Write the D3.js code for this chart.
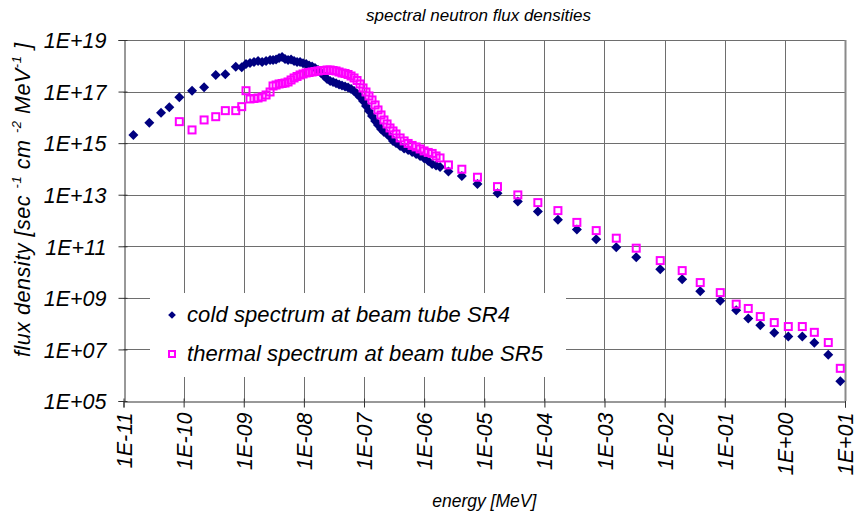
<!DOCTYPE html>
<meta charset="utf-8" />
<html>
<head>
<script src="https://d3js.org/d3.v7.min.js"></script>
<style>
  body { margin: 0; background: white; }
  svg text { font-family: "Liberation Sans", Arial, sans-serif; font-style: italic; fill: black; }
</style>
</head>
<body>
<div id="chart"></div>
<script>
// energy bins [MeV], shared by both spectra
const energy = [
  1.46e-11, 2.69e-11, 4.21e-11, 5.78e-11, 8.48e-11, 1.38e-10, 2.19e-10, 3.42e-10, 4.94e-10, 7.36e-10, 9.26e-10,
  1.09e-9, 1.27e-9, 1.48e-9, 1.73e-9, 2.02e-9, 2.35e-9, 2.74e-9,
  3.07e-9, 3.45e-9, 3.87e-9, 4.34e-9, 4.86e-9, 5.46e-9, 6.12e-9, 6.87e-9, 7.70e-9, 8.64e-9,
  9.69e-9, 1.09e-8, 1.22e-8, 1.37e-8, 1.53e-8, 1.72e-8, 1.93e-8, 2.17e-8, 2.43e-8, 2.73e-8,
  3.06e-8, 3.43e-8, 3.85e-8, 4.31e-8, 4.84e-8, 5.43e-8, 6.09e-8, 6.83e-8, 7.66e-8, 8.59e-8,
  9.64e-8, 1.08e-7, 1.21e-7, 1.36e-7, 1.53e-7, 1.71e-7, 1.92e-7, 2.15e-7, 2.42e-7, 2.71e-7,
  3.04e-7, 3.41e-7,
  3.99e-7, 4.65e-7, 5.42e-7, 6.31e-7, 7.36e-7, 8.57e-7, 9.99e-7, 1.17e-6, 1.36e-6, 1.58e-6, 1.84e-6,
  2.54e-6, 4.24e-6, 7.71e-6, 1.66e-5, 3.62e-5, 7.79e-5, 1.68e-4, 3.47e-4, 7.28e-4, 1.57e-3, 3.37e-3, 8.45e-3,
  1.96e-2, 3.91e-2, 8.42e-2, 1.55e-1, 2.46e-1, 3.90e-1, 6.66e-1, 1.14, 1.95, 3.09, 5.27, 8.35
];

// cold spectrum at beam tube SR4
const coldFlux = [
  2.08e15, 6.23e15, 1.52e16, 2.46e16, 6.01e16, 1.08e17, 1.47e17, 4.40e17, 4.68e17, 9.23e17, 8.75e17,
  1.17e18, 1.28e18, 1.40e18, 1.53e18, 1.40e18, 1.53e18, 1.68e18,
  1.68e18, 1.75e18, 2.01e18, 2.19e18, 1.83e18, 1.68e18, 1.75e18, 1.53e18, 1.40e18, 1.40e18,
  1.25e18, 1.17e18, 1.03e18, 9.40e17, 8.22e17, 6.87e17, 5.26e17, 4.02e17, 3.08e17, 2.58e17,
  2.36e17, 2.10e17, 1.88e17, 1.72e17, 1.58e17, 1.44e17, 1.26e17, 1.06e17, 8.07e16, 6.18e16,
  4.32e16, 2.77e16, 1.77e16, 1.13e16, 7.25e15, 5.08e15, 3.55e15, 2.72e15, 2.27e15, 1.74e15,
  1.22e15, 1.02e15,
  7.79e14, 6.23e14, 5.45e14, 4.56e14, 3.81e14, 3.19e14, 2.60e14, 2.04e14, 1.56e14, 1.37e14, 1.20e14,
  7.86e13, 5.35e13, 2.62e13, 1.14e13, 5.40e12, 2.21e12, 1.06e12, 4.52e11, 1.88e11, 9.23e10, 3.78e10, 1.30e10,
  5.31e9, 1.82e9, 7.65e8, 3.28e8, 1.58e8, 8.75e7, 4.40e7, 3.16e7, 3.16e7, 1.80e7, 6.18e6, 5.80e5
];

// thermal spectrum at beam tube SR5 (no values for the lowest bins)
const thermalFlux = [
  null, null, null, null, 6.81e15, 3.25e15, 7.93e15, 1.06e16, 1.82e16, 1.82e16, 2.60e16,
  1.08e17, 5.17e16, 5.40e16, 5.65e16, 6.18e16, 7.38e16, 9.65e16,
  1.65e17, 1.80e17, 1.97e17, 2.06e17, 2.15e17, 2.36e17, 2.82e17, 3.37e17, 3.85e17, 4.40e17,
  4.81e17, 5.26e17, 5.50e17, 5.75e17, 6.01e17, 6.29e17, 6.57e17, 6.57e17, 6.87e17, 6.87e17,
  6.57e17, 6.29e17, 5.75e17, 5.26e17, 5.03e17, 4.60e17, 4.02e17, 3.37e17, 2.69e17, 1.97e17,
  1.38e17, 9.65e16, 6.75e16, 4.73e16, 3.02e16, 1.94e16, 1.24e16, 7.93e15, 5.55e15, 3.88e15,
  2.97e15, 2.27e15,
  1.59e15, 1.22e15, 9.74e14, 8.15e14, 7.13e14, 5.96e14, 4.99e14, 4.36e14, 3.99e14, 3.19e14, 2.67e14,
  1.43e14, 9.74e13, 4.77e13, 2.06e13, 9.82e12, 4.94e12, 2.42e12, 8.44e11, 4.06e11, 2.06e11, 8.44e10, 2.79e10,
  1.14e10, 3.92e9, 1.60e9, 5.70e8, 3.88e8, 1.88e8, 1.10e8, 7.72e7, 7.72e7, 4.60e7, 1.85e7, 1.85e6
];

const xTicks = [1e-11, 1e-10, 1e-9, 1e-8, 1e-7, 1e-6, 1e-5, 1e-4, 1e-3, 1e-2, 1e-1, 1e0, 1e1];
const yTicks = [1e5, 1e7, 1e9, 1e11, 1e13, 1e15, 1e17, 1e19];
const seriesNames = ["cold spectrum at beam tube SR4", "thermal spectrum at beam tube SR5"];

const width = 859, height = 522;
const margin = {top: 40, right: 14, bottom: 121, left: 123.5};

const svg = d3.select("#chart").append("svg")
  .attr("width", width)
  .attr("height", height);

const x = d3.scaleLog()
  .domain([1e-11, 10])
  .range([margin.left, width - margin.right]);

const y = d3.scaleLog()
  .domain([1e5, 1e19])
  .range([height - margin.bottom, margin.top]);

const expFormat = v => {
  const e = Math.round(Math.log10(v));
  return "1E" + (e < 0 ? "-" : "+") + String(Math.abs(e)).padStart(2, "0");
};

// gridlines
const grid = svg.append("g").attr("stroke", "#6e6e6e").attr("stroke-width", 1);
grid.selectAll(".vg")
  .data(xTicks.slice(1))
  .join("line")
    .attr("x1", d => Math.round(x(d)) + 0.5)
    .attr("x2", d => Math.round(x(d)) + 0.5)
    .attr("y1", y(1e19))
    .attr("y2", y(1e5));
grid.selectAll(".hg")
  .data(yTicks.slice(1))
  .join("line")
    .attr("x1", x(1e-11))
    .attr("x2", x(10))
    .attr("y1", d => Math.round(y(d)) + 0.5)
    .attr("y2", d => Math.round(y(d)) + 0.5);

// axes
const yAxis = svg.append("g")
  .attr("transform", `translate(${Math.round(x(1e-11)) + 0.5},0)`)
  .call(d3.axisLeft(y).tickValues(yTicks).tickFormat(expFormat).tickSizeOuter(0).tickSize(6));
yAxis.selectAll(".tick line").attr("x1", 3).attr("x2", -6).attr("stroke", "#333");
yAxis.select(".domain").attr("stroke", "#333");
yAxis.selectAll(".tick text")
  .attr("font-size", 21.5)
  .attr("font-family", null)
  .attr("x", -18)
  .attr("dy", "0.36em");

const xAxis = svg.append("g")
  .attr("transform", `translate(0,${Math.round(y(1e5)) + 0.5})`)
  .call(d3.axisBottom(x).tickValues(xTicks).tickFormat(expFormat).tickSizeOuter(0).tickSize(6));
xAxis.selectAll(".tick line").attr("y1", -3).attr("y2", 6).attr("stroke", "#333");
xAxis.select(".domain").attr("stroke", "#333");
xAxis.selectAll(".tick text")
  .attr("font-size", 21.5)
  .attr("font-family", null)
  .attr("text-anchor", "end")
  .attr("dy", null)
  .attr("y", 0)
  .attr("transform", "translate(7.5,11) rotate(-90)");

// plot border (right edge)
svg.append("line")
  .attr("x1", Math.round(x(10)) + 0.5).attr("x2", Math.round(x(10)) + 0.5)
  .attr("y1", y(1e19)).attr("y2", y(1e5))
  .attr("stroke", "#8a8a8a").attr("stroke-width", 2);

// series
const cold = energy.map((e, i) => ({e, f: coldFlux[i]})).filter(d => d.f != null);
const thermal = energy.map((e, i) => ({e, f: thermalFlux[i]})).filter(d => d.f != null);

const diamond = d3.symbol(d3.symbolSquare, 50)();

svg.append("g")
  .selectAll("path")
  .data(cold)
  .join("path")
    .attr("d", diamond)
    .attr("transform", d => `translate(${x(d.e)},${y(d.f)}) rotate(45)`)
    .attr("fill", "#000080");

svg.append("g")
  .selectAll("rect")
  .data(thermal)
  .join("rect")
    .attr("x", d => x(d.e) - 3.5)
    .attr("y", d => y(d.f) - 3.5)
    .attr("width", 7)
    .attr("height", 7)
    .attr("fill", "none")
    .attr("stroke", "#ff00ff")
    .attr("stroke-width", 2);

// legend
const legend = svg.append("g");
legend.append("rect")
  .attr("x", 150).attr("y", 293)
  .attr("width", 416).attr("height", 84)
  .attr("fill", "white");
legend.append("path")
  .attr("d", d3.symbol(d3.symbolSquare, 30)())
  .attr("transform", "translate(172,315) rotate(45)")
  .attr("fill", "#000080");
legend.append("rect")
  .attr("x", 169).attr("y", 351)
  .attr("width", 6).attr("height", 6)
  .attr("fill", "none")
  .attr("stroke", "#ff00ff")
  .attr("stroke-width", 2);
legend.selectAll("text")
  .data(seriesNames)
  .join("text")
    .attr("x", 187)
    .attr("y", (d, i) => 322 + i * 39)
    .attr("font-size", 22)
    .attr("textLength", (d, i) => i === 0 ? 323 : 356)
    .attr("lengthAdjust", "spacing")
    .text(d => d);

// titles
svg.append("text")
  .attr("x", 591)
  .attr("y", 21)
  .attr("text-anchor", "end")
  .attr("font-size", 17)
  .text("spectral neutron flux densities");

svg.append("text")
  .attr("x", (x(1e-11) + x(10)) / 2)
  .attr("y", 507)
  .attr("text-anchor", "middle")
  .attr("font-size", 17.5)
  .text("energy [MeV]");

const yLabel = svg.append("text")
  .attr("transform", "translate(30,200) rotate(-90)")
  .attr("text-anchor", "middle")
  .attr("font-size", 21.5)
  .attr("textLength", 314)
  .attr("lengthAdjust", "spacing");
yLabel.append("tspan").text("flux density [sec ");
yLabel.append("tspan").attr("dy", -9).attr("font-size", 13).text("-1");
yLabel.append("tspan").attr("dy", 9).text(" cm ");
yLabel.append("tspan").attr("dy", -9).attr("font-size", 13).text("-2");
yLabel.append("tspan").attr("dy", 9).text(" MeV");
yLabel.append("tspan").attr("dy", -9).attr("font-size", 13).text("-1");
yLabel.append("tspan").attr("dy", 9).text(" ]");
</script>
</body>
</html>
